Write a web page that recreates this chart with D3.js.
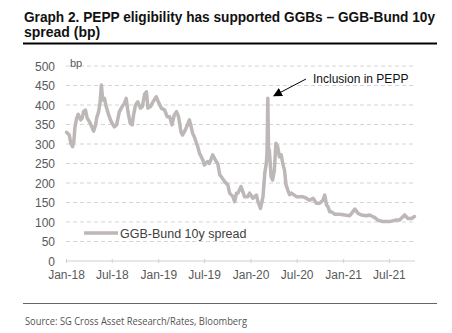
<!DOCTYPE html>
<html>
<head>
<meta charset="utf-8">
<script src="https://cdn.jsdelivr.net/npm/d3@7"></script>
<style>
  html, body { margin: 0; padding: 0; background: #fff; }
  svg { display: block; }
</style>
</head>
<body>
<svg id="chart" width="452" height="333"></svg>
<script>
// ---- Data ----
const titleLines = ["Graph 2. PEPP eligibility has supported GGBs \u2013 GGB-Bund 10y", "spread (bp)"];
const sourceText = "Source: SG Cross Asset Research/Rates, Bloomberg";
const seriesName = "GGB-Bund 10y spread";
const unitLabel = "bp";
const annotationText = "Inclusion in PEPP";
const annotationDate = "2020-03-09";
const yTicks = [0, 50, 100, 150, 200, 250, 300, 350, 400, 450, 500];
const xTickDates = ["2018-01-01", "2018-07-01", "2019-01-01", "2019-07-01", "2020-01-01", "2020-07-01", "2021-01-01", "2021-07-01"];
const xTickLabels = ["Jan-18", "Jul-18", "Jan-19", "Jul-19", "Jan-20", "Jul-20", "Jan-21", "Jul-21"];
const xDomain = ["2018-01-01", "2021-10-12"];
const yDomain = [0, 500];

const dates = [
  "2018-01-03","2018-01-14","2018-01-20","2018-01-27","2018-02-01","2018-02-05","2018-02-12","2018-02-18","2018-02-28","2018-03-06",
  "2018-03-11","2018-03-19","2018-03-26","2018-04-04","2018-04-13","2018-04-20","2018-04-28","2018-05-02","2018-05-10","2018-05-16",
  "2018-05-21","2018-05-26","2018-06-02","2018-06-09","2018-06-19","2018-06-29","2018-07-11","2018-07-20","2018-07-31","2018-08-11",
  "2018-08-20","2018-08-27","2018-09-03","2018-09-12","2018-09-20","2018-09-25","2018-10-03","2018-10-12","2018-10-22","2018-10-30",
  "2018-11-08","2018-11-15","2018-11-21","2018-12-01","2018-12-11","2018-12-24","2019-01-01","2019-01-13","2019-01-26","2019-02-05",
  "2019-02-15","2019-02-24","2019-03-05","2019-03-14","2019-03-22","2019-04-01","2019-04-07","2019-04-18","2019-05-01","2019-05-04",
  "2019-05-17","2019-05-23","2019-06-06","2019-06-13","2019-06-26","2019-07-02","2019-07-15","2019-07-22","2019-08-04","2019-08-18",
  "2019-08-24","2019-09-01","2019-09-07","2019-09-20","2019-10-03","2019-10-10","2019-10-23","2019-10-30","2019-11-06","2019-11-12",
  "2019-11-24","2019-12-08","2019-12-21","2019-12-28","2020-01-10","2020-01-24","2020-01-30","2020-02-09","2020-02-19","2020-02-26",
  "2020-03-03","2020-03-06","2020-03-09","2020-03-12","2020-03-15","2020-03-22","2020-03-28","2020-04-04","2020-04-10","2020-04-17",
  "2020-04-24","2020-05-01","2020-05-07","2020-05-14","2020-05-20","2020-05-27","2020-06-03","2020-06-10","2020-06-30","2020-07-13",
  "2020-07-24","2020-08-08","2020-08-21","2020-09-04","2020-09-17","2020-09-30","2020-10-13","2020-10-20","2020-10-27","2020-11-02",
  "2020-11-09","2020-11-16","2020-11-29","2020-12-18","2021-01-07","2021-01-27","2021-02-16","2021-03-01","2021-03-14","2021-04-02",
  "2021-04-15","2021-04-28","2021-05-05","2021-05-18","2021-06-07","2021-07-03","2021-07-30","2021-08-12","2021-09-01","2021-09-14",
  "2021-09-28","2021-10-10"
];
const spread = [
  330,323,302,293,306,341,366,376,362,366,
  383,387,366,357,344,333,349,366,383,408,
  451,413,417,396,374,357,344,349,383,396,
  404,417,383,353,349,374,400,408,392,396,
  428,434,392,396,408,421,408,392,387,370,
  370,349,374,383,370,330,323,336,357,362,
  327,319,293,276,259,246,255,250,272,255,
  250,221,216,204,195,174,165,152,174,174,
  191,165,165,174,161,169,152,135,165,225,
  250,280,417,285,285,216,208,233,302,293,
  267,272,250,233,195,182,170,174,165,165,
  165,161,156,161,148,148,156,169,144,139,
  126,126,120,120,118,116,133,122,118,116,
  118,114,112,105,101,101,105,105,118,109,
  109,114
];

// ---- Chart ----
const svg = d3.select("#chart");
const parse = d3.timeParse("%Y-%m-%d");
const data = dates.map((d, i) => ({ date: parse(d), value: spread[i] }));

const x = d3.scaleTime().domain(xDomain.map(parse)).range([66, 415]);
const y = d3.scaleLinear().domain(yDomain).range([261, 66]);

const textCol = "#595959";
const lineCol = "#bdb7b7";

// Title
const title = svg.append("g");
titleLines.forEach((t, i) => {
  const el = title.append("text")
    .attr("x", 24).attr("y", 21.5 + i * 15.8)
    .attr("font-family", "'Liberation Sans', Arial, sans-serif")
    .attr("font-weight", "bold").attr("font-size", 14)
    .attr("fill", "#111").text(t);
  if (i === 0) el.attr("textLength", 411).attr("lengthAdjust", "spacingAndGlyphs");
});
svg.append("line").attr("x1", 23).attr("x2", 437).attr("y1", 43.5).attr("y2", 43.5)
  .attr("stroke", "#000").attr("stroke-width", 2.2);

// Gridlines
svg.append("g").selectAll("line").data(yTicks.filter(v => v > 0)).join("line")
  .attr("x1", 66).attr("x2", 415)
  .attr("y1", d => y(d)).attr("y2", d => y(d))
  .attr("stroke", "#d4d4d4").attr("stroke-width", 1).attr("stroke-dasharray", "4,3");

// Y axis labels
const yAxis = d3.axisLeft(y).tickValues(yTicks).tickSize(0).tickPadding(0).tickFormat(d3.format("d"));
const yg = svg.append("g").attr("transform", "translate(55,0)").call(yAxis);
yg.select(".domain").remove();
yg.selectAll("text").attr("font-family", "Arial, 'Liberation Sans', sans-serif")
  .attr("font-size", 12).attr("fill", textCol).attr("dy", "0.36em");

// X axis
const xAxis = d3.axisBottom(x).tickValues(xTickDates.map(parse))
  .tickFormat((d, i) => xTickLabels[i]).tickSize(3).tickPadding(6);
const xg = svg.append("g").attr("transform", `translate(0,${y(0)})`).call(xAxis);
xg.select(".domain").attr("stroke", "#d0d0d0").attr("d", `M66,0H415`);
xg.selectAll(".tick line").attr("stroke", "#d0d0d0").attr("y1", -2).attr("y2", 2);
xg.selectAll("text").attr("font-family", "Arial, 'Liberation Sans', sans-serif")
  .attr("font-size", 12).attr("fill", textCol);

// Unit label
svg.append("text").attr("x", 70).attr("y", 67)
  .attr("font-family", "Arial, 'Liberation Sans', sans-serif").attr("font-size", 11)
  .attr("fill", textCol).text(unitLabel);

// Series line
const line = d3.line().x(d => x(d.date)).y(d => y(d.value));
svg.append("path").datum(data)
  .attr("fill", "none").attr("stroke", lineCol).attr("stroke-width", 3.5)
  .attr("stroke-linejoin", "round").attr("stroke-linecap", "round")
  .attr("d", line);

// Legend
svg.append("line").attr("x1", 84).attr("x2", 118).attr("y1", 233).attr("y2", 233)
  .attr("stroke", lineCol).attr("stroke-width", 3.5);
svg.append("text").attr("x", 120).attr("y", 237.5)
  .attr("font-family", "Arial, 'Liberation Sans', sans-serif").attr("font-size", 12.5)
  .attr("fill", "#404040").text(seriesName);

// Annotation
const spike = data.find(d => +d.date === +parse(annotationDate));
const defs = svg.append("defs");
defs.append("marker").attr("id", "arrow").attr("viewBox", "0 0 10 10")
  .attr("refX", 9).attr("refY", 5).attr("markerWidth", 9).attr("markerHeight", 9)
  .attr("markerUnits", "userSpaceOnUse").attr("orient", "auto")
  .append("path").attr("d", "M0,0L10,5L0,10Z").attr("fill", "#000");
const tipX = x(spike.date) + 6, tipY = y(spike.value) - 2.5;
svg.append("line").attr("x1", 306).attr("y1", 79).attr("x2", tipX).attr("y2", tipY)
  .attr("stroke", "#000").attr("stroke-width", 1).attr("marker-end", "url(#arrow)");
svg.append("text").attr("x", 313).attr("y", 83)
  .attr("font-family", "Arial, 'Liberation Sans', sans-serif").attr("font-size", 12)
  .attr("fill", "#111").text(annotationText);

// Source
svg.append("line").attr("x1", 23).attr("x2", 437).attr("y1", 303.5).attr("y2", 303.5)
  .attr("stroke", "#666").attr("stroke-width", 1);
svg.append("text").attr("x", 25).attr("y", 325)
  .attr("font-family", "'Open Sans', 'Noto Sans', sans-serif").attr("font-size", 10.5)
  .attr("fill", "#555").attr("textLength", 222).attr("lengthAdjust", "spacingAndGlyphs")
  .text(sourceText);
</script>
</body>
</html>
